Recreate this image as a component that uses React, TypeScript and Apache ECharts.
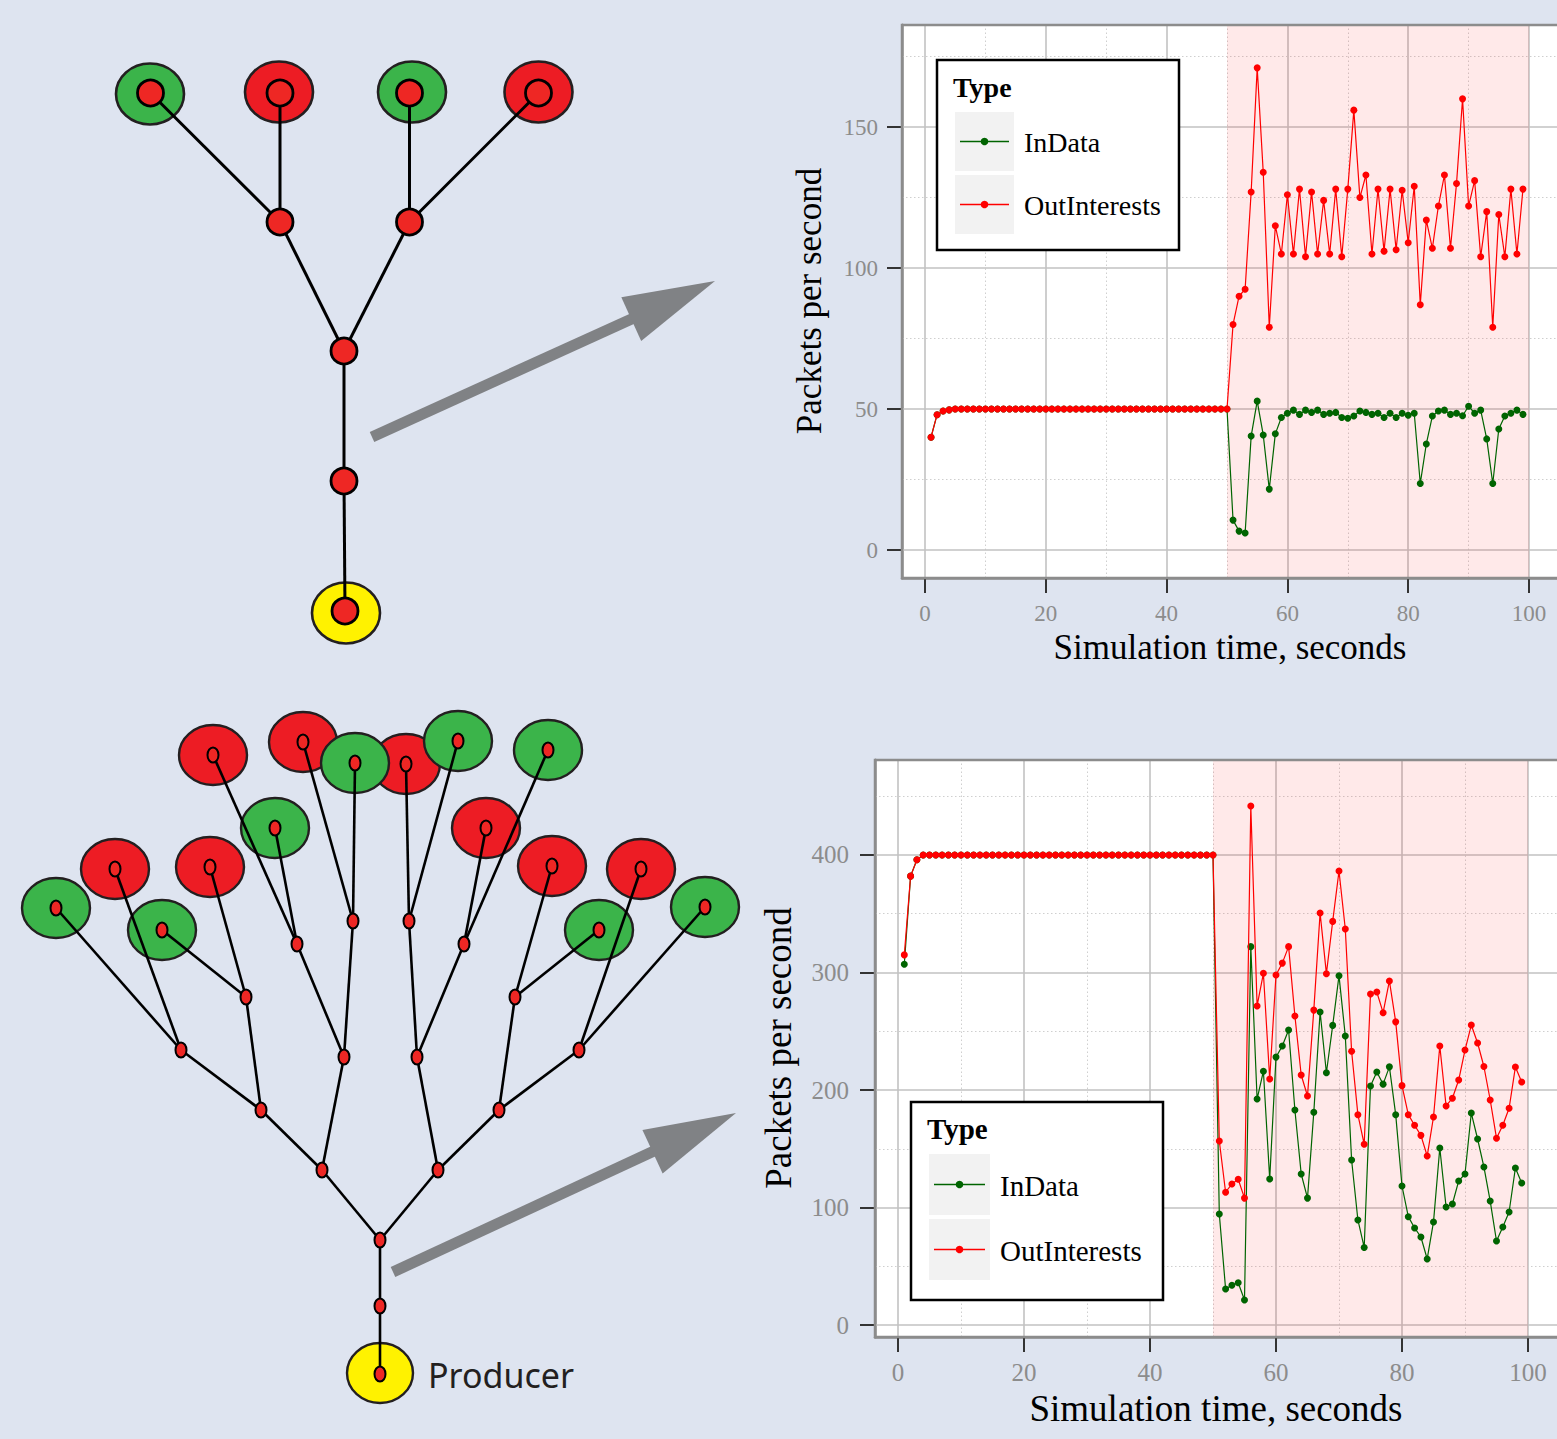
import React, { useEffect, useRef } from "react";
import * as echarts from "echarts";

// ---------------- DATA ----------------
// Top chart (single consumer tree), t = 1..99 seconds
const topInData = [
  40, 48, 49.3, 49.7, 50, 50, 50, 50, 50, 50,
  50, 50, 50, 50, 50, 50, 50, 50, 50, 50,
  50, 50, 50, 50, 50, 50, 50, 50, 50, 50,
  50, 50, 50, 50, 50, 50, 50, 50, 50, 50,
  50, 50, 50, 50, 50, 50, 50, 50, 50, 50,
  10.6, 6.7, 6, 40.4, 52.8, 40.8, 21.6, 41.2, 47, 48.5,
  49.6, 48.1, 49.6, 48.8, 49.6, 48.1, 48.5, 48.8, 47, 46.7,
  47.5, 49.3, 48.8, 48.1, 48.5, 47, 48.5, 47, 48.5, 47.8,
  48.5, 23.6, 37.6, 47.5, 49.3, 49.6, 48.1, 48.5, 47.6, 51,
  48.5, 49.6, 39.4, 23.6, 42.9, 47.5, 48.5, 49.6, 48.1,
];
const topOutInterests = [
  40, 48, 49.3, 49.7, 50, 50, 50, 50, 50, 50,
  50, 50, 50, 50, 50, 50, 50, 50, 50, 50,
  50, 50, 50, 50, 50, 50, 50, 50, 50, 50,
  50, 50, 50, 50, 50, 50, 50, 50, 50, 50,
  50, 50, 50, 50, 50, 50, 50, 50, 50, 50,
  80, 90, 92.5, 127, 171, 134, 79, 115, 105, 126,
  105, 128, 104, 127, 105, 124, 105, 128, 104, 128,
  156, 125, 133, 105, 128, 106, 128, 106.5, 127.6, 109,
  129, 87, 117, 107, 122, 133, 107, 130, 160, 122,
  131, 104, 120, 79, 119, 104, 128, 105, 128,
];
// Bottom chart (large tree)
const bottomInData = [
  307, 382, 396, 400, 400, 400, 400, 400, 400, 400,
  400, 400, 400, 400, 400, 400, 400, 400, 400, 400,
  400, 400, 400, 400, 400, 400, 400, 400, 400, 400,
  400, 400, 400, 400, 400, 400, 400, 400, 400, 400,
  400, 400, 400, 400, 400, 400, 400, 400, 400, 400,
  94.5, 30.6, 33.8, 36, 21.3, 322, 192.3, 216, 124.3, 228,
  237.4, 251, 183, 128.5, 108, 181, 266.4, 214.7, 255, 297.3,
  246, 140.4, 89.4, 66, 203.4, 215.3, 205, 219.7, 179, 118.3,
  92.2, 82.6, 74.9, 56.2, 87.7, 150.6, 100.4, 103, 122.6, 128.5,
  180.4, 158.3, 134.5, 105.5, 71.5, 83.4, 96.2, 133.6, 120.9,
];
const bottomOutInterests = [
  315, 382, 396, 400, 400, 400, 400, 400, 400, 400,
  400, 400, 400, 400, 400, 400, 400, 400, 400, 400,
  400, 400, 400, 400, 400, 400, 400, 400, 400, 400,
  400, 400, 400, 400, 400, 400, 400, 400, 400, 400,
  400, 400, 400, 400, 400, 400, 400, 400, 400, 400,
  156.6, 113, 120, 124, 108, 441.7, 271.5, 299.3, 209.4, 297.9,
  308, 322, 263, 212.8, 194.9, 268, 350.6, 299, 343.5, 386.4,
  337, 233, 179, 153.8, 281.7, 283.4, 265.8, 292.8, 258, 203.7,
  179, 170, 161.4, 143.8, 177, 237.4, 186.4, 193, 208.5, 234,
  255.3, 240, 220, 191.5, 159, 170, 184.4, 219.6, 206.8,
];

const xMajorTicks = [0, 20, 40, 60, 80, 100];
const xMinorTicks = [10, 30, 50, 70, 90];
const topYMajor = [0, 50, 100, 150];
const topYMinor = [25, 75, 125, 175];
const bottomYMajor = [0, 100, 200, 300, 400];
const bottomYMinor = [50, 150, 250, 350, 450];
const congestionWindow = [50, 100];
const seriesNames = ["InData", "OutInterests"];
const legendTitle = "Type";

// ---------------- STYLE ----------------
const BG = "#dee4f0";
const GREEN_LINE = "#006400";
const RED_LINE = "#ff0000";
const SERIF = "Liberation Serif";
const NODE_GREEN = "#3bb44a";
const NODE_RED = "#ed1c24";
const NODE_YELLOW = "#fff200";
const OUTLINE = "#231f20";
const ARROW = "#808285";
const PANEL_BORDER = "#8c8c8c";

const toPairs = (vals: number[]) => vals.map((v, i) => [i + 1, v]);

function buildChartParts(idx: number, yMajor: number[], yMinor: number[], inData: number[], outI: number[], labelSize: number) {
  const major = { color: "#c2c2c2", width: 1.6, type: "solid" };
  const minor = { color: "#cfcfcf", width: 1, type: [1.5, 2.5] };
  const lines: any[] = [];
  xMajorTicks.forEach((v) => lines.push({ xAxis: v, lineStyle: major }));
  xMinorTicks.forEach((v) => lines.push({ xAxis: v, lineStyle: minor }));
  yMajor.forEach((v) => lines.push({ yAxis: v, lineStyle: major }));
  yMinor.forEach((v) => lines.push({ yAxis: v, lineStyle: minor }));
  const series = [
    {
      type: "line",
      name: "grid" + idx,
      xAxisIndex: idx,
      yAxisIndex: idx,
      data: [],
      silent: true,
      z: 1,
      markLine: {
        silent: true,
        z: 1,
        symbol: ["none", "none"],
        label: { show: false },
        emphasis: { disabled: true },
        data: lines,
      },
      markArea: {
        silent: true,
        z: 2,
        itemStyle: { color: "rgba(255,0,0,0.085)" },
        emphasis: { disabled: true },
        data: [[{ xAxis: congestionWindow[0] }, { xAxis: congestionWindow[1] }]],
      },
    },
    {
      type: "line",
      name: seriesNames[0],
      xAxisIndex: idx,
      yAxisIndex: idx,
      data: toPairs(inData),
      z: 3,
      symbol: "circle",
      symbolSize: 7,
      lineStyle: { color: GREEN_LINE, width: 1.2 },
      itemStyle: { color: GREEN_LINE },
    },
    {
      type: "line",
      name: seriesNames[1],
      xAxisIndex: idx,
      yAxisIndex: idx,
      data: toPairs(outI),
      z: 4,
      symbol: "circle",
      symbolSize: 7,
      lineStyle: { color: RED_LINE, width: 1.2 },
      itemStyle: { color: RED_LINE },
    },
  ];
  const axisLine = { show: true, onZero: false, lineStyle: { color: PANEL_BORDER, width: 2.5 } };
  const tick = { show: true, inside: false, length: 15, lineStyle: { color: "#333", width: 2 } };
  const label = { color: "#8c8c8c", fontFamily: SERIF, fontSize: labelSize };
  return { series, tick, label, axisLine };
}

function legend(x: number, y: number, w: number, h: number, key: number, fs: number) {
  const els: any[] = [];
  els.push({ type: "rect", z: 50, shape: { x, y, width: w, height: h }, style: { fill: "#fff", stroke: "#000", lineWidth: 2.5 } });
  els.push({ type: "text", z: 51, x: x + 16, y: y + 27, style: { text: legendTitle, fontFamily: SERIF, fontWeight: "bold", fontSize: fs, fill: "#000", align: "left", verticalAlign: "middle" } });
  const colors = [GREEN_LINE, RED_LINE];
  seriesNames.forEach((n, i) => {
    const kx = x + 18;
    const ky = y + 52 + i * (key + 4);
    const cy = ky + key / 2;
    els.push({ type: "rect", z: 51, shape: { x: kx, y: ky, width: key, height: key }, style: { fill: "#f2f2f2" } });
    els.push({ type: "line", z: 52, shape: { x1: kx + 5, y1: cy, x2: kx + key - 5, y2: cy }, style: { stroke: colors[i], lineWidth: 1.4 } });
    els.push({ type: "circle", z: 53, shape: { cx: kx + key / 2, cy, r: 3.8 }, style: { fill: colors[i] } });
    els.push({ type: "text", z: 51, x: kx + key + 10, y: cy + 1, style: { text: n, fontFamily: SERIF, fontSize: fs, fill: "#000", align: "left", verticalAlign: "middle" } });
  });
  return els;
}

function panelBorder(left: number, top: number, bottom: number, right: number) {
  const st = { stroke: PANEL_BORDER, lineWidth: 2.5 };
  return [
    { type: "line", z: 30, shape: { x1: left, y1: top, x2: right, y2: top }, style: st },
    { type: "line", z: 30, shape: { x1: left, y1: top - 1.25, x2: left, y2: bottom + 1.25 }, style: st },
    { type: "line", z: 30, shape: { x1: left, y1: bottom, x2: right, y2: bottom }, style: st },
  ];
}

function arrow(x1: number, y1: number, tx: number, ty: number) {
  const dx = tx - x1, dy = ty - y1;
  const L = Math.sqrt(dx * dx + dy * dy);
  const ux = dx / L, uy = dy / L;
  const head = 92, half = 24;
  const bx = tx - ux * head, by = ty - uy * head;
  const px = -uy * half, py = ux * half;
  return [
    { type: "line", z: 5, shape: { x1, y1, x2: bx + ux * 4, y2: by + uy * 4 }, style: { stroke: ARROW, lineWidth: 11 } },
    { type: "polygon", z: 5, shape: { points: [[tx, ty], [bx + px, by + py], [bx - px, by - py]] }, style: { fill: ARROW } },
  ];
}

// Tree diagram geometry
const topLeaves = [
  { c: [150, 94], n: [150.5, 93], f: NODE_GREEN },
  { c: [279, 92], n: [280, 93], f: NODE_RED },
  { c: [412, 92], n: [409.5, 93], f: NODE_GREEN },
  { c: [538.5, 92], n: [538.5, 93], f: NODE_RED },
];
const topInner = [[280, 222], [409.5, 222], [344, 351], [344, 481]];
const topEdges = [
  [[150.5, 93], [280, 222]], [[280, 93], [280, 222]], [[409.5, 93], [409.5, 222]], [[538.5, 93], [409.5, 222]],
  [[280, 222], [344, 351]], [[409.5, 222], [344, 351]], [[344, 351], [344, 481]], [[344, 481], [345, 611]],
];

const bLeaves: [number, number, string][] = [
  [115, 869, NODE_RED], [210, 867, NODE_RED], [213, 755, NODE_RED], [303, 742, NODE_RED],
  [406, 764, NODE_RED], [486, 828, NODE_RED], [552, 866, NODE_RED], [641, 869, NODE_RED],
  [56, 908, NODE_GREEN], [162, 930, NODE_GREEN], [275, 828, NODE_GREEN], [355, 763, NODE_GREEN],
  [458, 741, NODE_GREEN], [548, 750, NODE_GREEN], [599, 930, NODE_GREEN], [705, 907, NODE_GREEN],
];
const bInner = [
  [380, 1306], [380, 1240], [322, 1170], [438, 1170], [261, 1110], [499, 1110],
  [181, 1050], [344, 1057], [417, 1057], [579, 1050], [246, 997], [515, 997],
  [297, 944], [353, 921], [409, 921], [464, 944],
];
const bEdges = [
  [[380, 1373], [380, 1306]], [[380, 1306], [380, 1240]],
  [[380, 1240], [322, 1170]], [[380, 1240], [438, 1170]],
  [[322, 1170], [261, 1110]], [[322, 1170], [344, 1057]],
  [[438, 1170], [417, 1057]], [[438, 1170], [499, 1110]],
  [[261, 1110], [181, 1050]], [[261, 1110], [246, 997]],
  [[499, 1110], [579, 1050]], [[499, 1110], [515, 997]],
  [[344, 1057], [297, 944]], [[344, 1057], [353, 921]],
  [[417, 1057], [409, 921]], [[417, 1057], [464, 944]],
  [[181, 1050], [56, 908]], [[181, 1050], [115, 869]],
  [[246, 997], [162, 930]], [[246, 997], [210, 867]],
  [[297, 944], [213, 755]], [[297, 944], [275, 828]],
  [[353, 921], [303, 742]], [[353, 921], [355, 763]],
  [[409, 921], [406, 764]], [[409, 921], [458, 741]],
  [[464, 944], [486, 828]], [[464, 944], [548, 750]],
  [[515, 997], [552, 866]], [[515, 997], [599, 930]],
  [[579, 1050], [641, 869]], [[579, 1050], [705, 907]],
];

function trees() {
  const els: any[] = [];
  // top tree
  topLeaves.forEach((l) => els.push({ type: "ellipse", z: 5, shape: { cx: l.c[0], cy: l.c[1], rx: 34, ry: 30.5 }, style: { fill: l.f, stroke: OUTLINE, lineWidth: 2.6 } }));
  els.push({ type: "ellipse", z: 5, shape: { cx: 346, cy: 613, rx: 34, ry: 30.5 }, style: { fill: NODE_YELLOW, stroke: OUTLINE, lineWidth: 2.6 } });
  topEdges.forEach((e) => els.push({ type: "line", z: 6, shape: { x1: e[0][0], y1: e[0][1], x2: e[1][0], y2: e[1][1] }, style: { stroke: "#000", lineWidth: 3 } }));
  topLeaves.forEach((l) => els.push({ type: "circle", z: 7, shape: { cx: l.n[0], cy: l.n[1], r: 13 }, style: { fill: "#ee2724", stroke: "#000", lineWidth: 2.8 } }));
  topInner.forEach((p) => els.push({ type: "circle", z: 7, shape: { cx: p[0], cy: p[1], r: 13 }, style: { fill: "#ee2724", stroke: "#000", lineWidth: 2.8 } }));
  els.push({ type: "circle", z: 7, shape: { cx: 345, cy: 611, r: 13 }, style: { fill: "#ee2724", stroke: "#000", lineWidth: 2.8 } });

  // bottom tree
  bLeaves.forEach((l) => els.push({ type: "ellipse", z: 5, shape: { cx: l[0], cy: l[1], rx: 34, ry: 30 }, style: { fill: l[2], stroke: OUTLINE, lineWidth: 2.4 } }));
  els.push({ type: "ellipse", z: 5, shape: { cx: 380, cy: 1373, rx: 33, ry: 30 }, style: { fill: NODE_YELLOW, stroke: OUTLINE, lineWidth: 2.4 } });
  bEdges.forEach((e) => els.push({ type: "line", z: 6, shape: { x1: e[0][0], y1: e[0][1], x2: e[1][0], y2: e[1][1] }, style: { stroke: "#000", lineWidth: 2.6 } }));
  const small = (x: number, y: number) => ({ type: "ellipse", z: 7, shape: { cx: x, cy: y, rx: 5.5, ry: 7.5 }, style: { fill: "#ee2724", stroke: "#000", lineWidth: 2 } });
  bLeaves.forEach((l) => els.push(small(l[0], l[1])));
  bInner.forEach((p) => els.push(small(p[0], p[1])));
  els.push(small(380, 1374));
  els.push({ type: "text", z: 8, x: 428, y: 1375, style: { text: "Producer", fontFamily: "Noto Sans", fontSize: 34, fill: OUTLINE, align: "left", verticalAlign: "middle" } });
  return els;
}

export default function App() {
  const ref = useRef<HTMLDivElement>(null);
  useEffect(() => {
    if (!ref.current) return;
    const chart = echarts.init(ref.current, undefined, { renderer: "svg" });
    const top = buildChartParts(0, topYMajor, topYMinor, topInData, topOutInterests, 23);
    const bot = buildChartParts(1, bottomYMajor, bottomYMinor, bottomInData, bottomOutInterests, 25);

    // top panel: left 902 .. page edge 1557, 6.04 px per second
    const tS = 6.04;
    const tMin = -23 / tS;
    const tW = 655;
    // bottom panel: left 875 .. page edge 1557, 6.3 px per second
    const bS = 6.3;
    const bMin = -23 / bS;
    const bW = 682;

    const option: any = {
      animation: false,
      backgroundColor: BG,
      grid: [
        { left: 902, top: 25, width: tW, height: 553, show: true, backgroundColor: "#fff", borderWidth: 0, z: 0 },
        { left: 875, top: 760, width: bW, height: 577, show: true, backgroundColor: "#fff", borderWidth: 0, z: 0 },
      ],
      xAxis: [
        {
          gridIndex: 0, type: "value", position: "bottom", min: tMin, max: tMin + tW / tS,
          axisLine: top.axisLine,
          axisTick: { ...top.tick, customValues: xMajorTicks },
          axisLabel: { ...top.label, customValues: xMajorTicks, margin: 24 },
          splitLine: { show: false },
        },
        {
          gridIndex: 1, type: "value", position: "bottom", min: bMin, max: bMin + bW / bS,
          axisLine: bot.axisLine,
          axisTick: { ...bot.tick, customValues: xMajorTicks },
          axisLabel: { ...bot.label, customValues: xMajorTicks, margin: 23 },
          splitLine: { show: false },
        },
      ],
      yAxis: [
        {
          gridIndex: 0, type: "value", position: "left", min: -9.93, max: 186.2,
          axisLine: top.axisLine,
          axisTick: { ...top.tick, customValues: topYMajor },
          axisLabel: { ...top.label, customValues: topYMajor, margin: 24 },
          splitLine: { show: false },
        },
        {
          gridIndex: 1, type: "value", position: "left", min: -10.21, max: 480.85,
          axisLine: bot.axisLine,
          axisTick: { ...bot.tick, customValues: bottomYMajor },
          axisLabel: { ...bot.label, customValues: bottomYMajor, margin: 26 },
          splitLine: { show: false },
        },
      ],
      series: [...top.series, ...bot.series],
      graphic: {
        elements: [
          ...trees(),
          ...arrow(372, 437, 715, 281),
          ...arrow(393, 1272, 736, 1113),
          ...panelBorder(902, 25, 578, 1560),
          ...panelBorder(875, 760, 1337, 1560),
          ...legend(937, 60, 242, 190, 59, 28),
          ...legend(911, 1102, 252, 198, 61, 29),
          { type: "text", z: 20, x: 1230, y: 647, style: { text: "Simulation time, seconds", fontFamily: SERIF, fontSize: 35, fill: "#000", align: "center", verticalAlign: "middle" } },
          { type: "text", z: 20, x: 809, y: 301, rotation: Math.PI / 2, style: { text: "Packets per second", fontFamily: SERIF, fontSize: 35, fill: "#000", align: "center", verticalAlign: "middle" } },
          { type: "text", z: 20, x: 1216, y: 1408, style: { text: "Simulation time, seconds", fontFamily: SERIF, fontSize: 37, fill: "#000", align: "center", verticalAlign: "middle" } },
          { type: "text", z: 20, x: 778, y: 1048, rotation: Math.PI / 2, style: { text: "Packets per second", fontFamily: SERIF, fontSize: 37, fill: "#000", align: "center", verticalAlign: "middle" } },
        ],
      },
    };
    chart.setOption(option);
    return () => chart.dispose();
  }, []);
  return <div ref={ref} style={{ position: "absolute", left: 0, top: 0, width: 1557, height: 1439 }} />;
}
